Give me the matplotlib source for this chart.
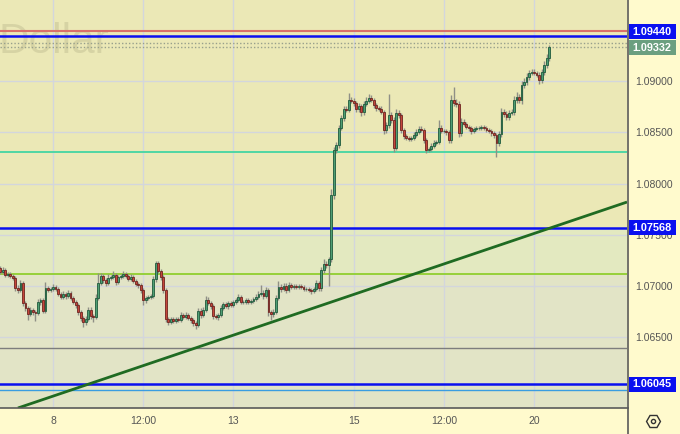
import matplotlib
matplotlib.use('Agg')
import matplotlib.pyplot as plt
import numpy as np
from matplotlib.lines import Line2D
from matplotlib.patches import Rectangle

# ---------------- data ----------------
first_open = 1.07177
close = [
 1.07138,1.07157,1.07109,1.07118,1.07099,1.07079,1.06982,1.06962,1.07031,1.06836,
 1.06787,1.06728,1.06767,1.06748,1.06738,1.06845,1.06865,1.06758,1.06982,1.06962,
 1.06972,1.06992,1.06972,1.06923,1.06894,1.06923,1.06904,1.06933,1.06884,1.06845,
 1.06816,1.06748,1.06689,1.06650,1.06680,1.06767,1.06709,1.06699,1.06884,1.07031,
 1.07099,1.07060,1.07031,1.07079,1.07089,1.07109,1.07040,1.07089,1.07099,1.07118,
 1.07099,1.07070,1.07089,1.07050,1.07021,1.07011,1.06962,1.06865,1.06884,1.06894,
 1.06904,1.07070,1.07226,1.07147,1.07089,1.06962,1.06680,1.06650,1.06680,1.06660,
 1.06680,1.06670,1.06719,1.06699,1.06719,1.06689,1.06670,1.06640,1.06621,1.06758,
 1.06719,1.06767,1.06865,1.06836,1.06806,1.06709,1.06699,1.06719,1.06787,1.06826,
 1.06806,1.06836,1.06816,1.06845,1.06865,1.06894,1.06845,1.06845,1.06865,1.06845,
 1.06855,1.06875,1.06894,1.06923,1.06933,1.06904,1.06962,1.06748,1.06728,1.06748,
 1.06884,1.06992,1.06972,1.07001,1.06962,1.07011,1.06992,1.07001,1.06992,1.07001,
 1.06992,1.06972,1.06972,1.06962,1.06953,1.06972,1.07031,1.06982,1.07157,1.07216,
 1.07206,1.07265,1.07889,1.08327,1.08376,1.08542,1.08639,1.08727,1.08717,1.08815,
 1.08805,1.08786,1.08727,1.08756,1.08698,1.08776,1.08805,1.08834,1.08815,1.08766,
 1.08737,1.08727,1.08698,1.08522,1.08571,1.08669,1.08620,1.08347,1.08688,1.08669,
 1.08522,1.08464,1.08444,1.08435,1.08444,1.08474,1.08503,1.08532,1.08522,1.08425,
 1.08327,1.08337,1.08366,1.08395,1.08405,1.08542,1.08513,1.08513,1.08503,1.08425,
 1.08815,1.08786,1.08776,1.08493,1.08600,1.08581,1.08552,1.08542,1.08513,1.08532,
 1.08542,1.08542,1.08552,1.08542,1.08522,1.08513,1.08493,1.08474,1.08395,1.08483,
 1.08698,1.08678,1.08649,1.08688,1.08698,1.08815,1.08844,1.08815,1.08961,1.08990,
 1.09039,1.09078,1.09088,1.09078,1.09059,1.09010,1.09088,1.09156,1.09224,1.09332,
]
upper_wick_pips = [
 2,3,2,2,2,2,2,3,3,2, 2,2,3,2,2,3,2,2,6,2, 2,3,2,2,2,3,2,3,2,2, 2,2,2,2,3,3,3,2,4,10,
 3,2,2,4,2,4,2,2,2,3, 2,2,3,2,2,2,2,2,2,2, 2,3,2,2,2,2,2,2,2,2, 2,2,3,2,3,2,2,2,2,3,
 3,3,4,3,2,2,2,2,3,2, 2,2,2,2,2,3,2,2,2,2, 2,2,3,3,8,3,3,2,2,3, 3,6,3,3,3,3,2,2,2,2,
 2,2,2,2,2,2,3,2,3,5, 3,2,6,3,3,3,3,3,3,7, 3,3,2,3,2,3,4,4,3,2, 2,2,3,2,3,20,3,3,4,3,
 2,2,2,2,2,3,3,3,3,2, 2,2,3,3,2,8,3,2,2,2, 5,13,4,3,4,3,2,2,2,2, 2,2,2,2,2,2,2,2,2,3,
 4,3,3,3,3,4,5,3,4,4, 4,3,3,3,2,3,3,4,4,2,
]
lower_wick_pips = [
 2,2,2,2,2,2,3,3,2,3, 3,6,2,3,8,2,3,2,2,2, 2,2,2,2,2,2,3,2,2,2, 3,3,3,5,3,2,3,5,2,2,
 2,3,3,2,2,2,3,2,2,2, 2,2,2,2,2,3,3,5,3,2, 2,2,3,2,3,3,3,3,2,2, 2,2,2,2,2,2,3,3,4,2,
 3,2,2,2,3,3,2,3,2,2, 2,3,2,2,2,2,2,2,2,2, 2,2,2,2,2,3,2,4,6,3, 2,2,3,2,3,2,2,2,2,2,
 2,2,2,2,3,2,2,3,3,3, 3,20,3,4,3,3,2,3,2,2, 2,3,3,3,4,3,2,2,2,3, 3,2,2,4,3,3,3,4,2,3,
 3,3,2,2,2,2,2,2,2,3, 3,2,2,2,2,2,2,2,3,3, 3,3,3,4,3,2,2,3,3,2, 2,2,2,2,2,2,3,3,14,3,
 3,3,3,3,2,3,3,3,4,3, 3,3,2,2,2,4,3,3,3,3,
]

x_tick_idx = [21, 57, 93, 141, 177, 213]
x_tick_labels = ["8", "12:00", "13", "15", "12:00", "20"]
y_ticks = [1.065, 1.070, 1.075, 1.080, 1.085, 1.090]
y_tick_labels = ["1.06500", "1.07000", "1.07500", "1.08000", "1.08500", "1.09000"]

blue_levels = [1.09440, 1.07568, 1.06045]
red_level = 1.09487
dotted_levels = [1.09367, 1.09332]
teal_level = 1.08309
lime_level = 1.07122
grey_level = 1.06400
lightblue_level = 1.05987
trend_pts_x = [7.0, 250.1]
trend_pts_y = [1.05812, 1.07820]

box_labels = [("1.09440", 1.09479, '#0a10f0'), ("1.09332", 1.09323, '#6b9f80'),
              ("1.07568", 1.07568, '#0a10f0'), ("1.06045", 1.06045, '#0a10f0')]

# ---------------- figure ----------------
W, H = 680, 434
fig = plt.figure(figsize=(W/100, H/100), dpi=100)
fig.patch.set_facecolor('#fffacd')
ax = fig.add_axes([0, 26/H, 627/W, 408/H])
ymin, ymax = 1.05812, 1.0979
ax.set_xlim(-0.16, 250.1)
ax.set_ylim(ymin, ymax)
ax.set_facecolor('#ebe8b6')
px_price = (ymax - ymin) / 408.0

# zones
ax.axhspan(lime_level, blue_levels[1], color='#e3e9c0', zorder=0, lw=0)
ax.axhspan(ymin, lime_level, color='#e2e4c6', zorder=0, lw=0)

# grid
for xt in x_tick_idx:
    ax.axvline(xt, color='#d3d6dc', lw=1, zorder=1)
for yt in y_ticks:
    ax.axhline(yt, color='#d3d6dc', lw=1, zorder=1)

# watermark
ax.text(-0.002, 1 - 53/408, "Dollar", transform=ax.transAxes, ha='left', va='baseline',
        fontsize=30.5, family='Liberation Sans', color='#d6d3a4', zorder=1.5)

# horizontal levels
ax.axhline(red_level, color='#d9706a', lw=1.5, zorder=3)
ax.axhline(teal_level, color='#4fd6a4', lw=1.4, zorder=3)
ax.axhline(lime_level, color='#96d03a', lw=1.4, zorder=3)
ax.axhline(grey_level, color='#7d7d7d', lw=1.0, zorder=3)
ax.axhline(lightblue_level, color='#3a9de0', lw=1.0, zorder=3)
for lv in dotted_levels:
    ax.axhline(lv, color='#98a08c', lw=1.0, ls=(0, (1, 1.5)), zorder=3)
for lv in blue_levels:
    ax.axhline(lv, color='#0a10f0', lw=1.8, zorder=3)

# trend line
ax.plot(trend_pts_x, trend_pts_y, color='#1f6b22', lw=2.0, zorder=4, solid_capstyle='butt')

# candles
n = len(close)
xs = np.arange(n)
opens = np.array([first_open] + close[:-1])
closes = np.array(close)
highs = np.maximum(opens, closes) + np.array(upper_wick_pips) * 0.0001
lows = np.minimum(opens, closes) - np.array(lower_wick_pips) * 0.0001
up = closes >= opens
ax.vlines(xs, lows, highs, color='#8f8f86', lw=1.0, zorder=5)
bot = np.minimum(opens, closes)
hgt = np.abs(closes - opens)
ax.bar(xs[up], hgt[up], bottom=bot[up], width=0.75, color='#4f9e74',
       edgecolor='#1f5a3c', linewidth=0.6, zorder=6)
ax.bar(xs[~up], hgt[~up], bottom=bot[~up], width=0.75, color='#c4463b',
       edgecolor='#6e2420', linewidth=0.6, zorder=6)

# axes styling
for s in ax.spines.values():
    s.set_visible(False)
ax.set_xticks(x_tick_idx)
ax.set_xticklabels(x_tick_labels)
ax.yaxis.tick_right()
ax.set_yticks(y_ticks)
ax.set_yticklabels(y_tick_labels)
ax.tick_params(axis='both', length=0, colors='#555555', labelsize=7.5)
ax.tick_params(axis='x', pad=6)
ax.tick_params(axis='y', pad=6)
for lab in ax.get_xticklabels() + ax.get_yticklabels():
    lab.set_family('Liberation Sans')

# price boxes
ytr = ax.get_yaxis_transform()
bx0, bw, bh = 628.5/627, 47/627, 15 * px_price
for txt, lv, col in box_labels:
    ax.add_patch(Rectangle((bx0, lv - bh/2), bw, bh, transform=ytr, fc=col, ec='none',
                           zorder=10, clip_on=False))
    ax.text(bx0 + bw/2, lv, txt, transform=ytr, ha='center', va='center',
            fontsize=7.8, family='Liberation Sans', fontweight='bold', color='white',
            zorder=11, clip_on=False)

# frame lines
fig.add_artist(Line2D([627.5/W, 627.5/W], [0, 1], color='#5a5a5a', lw=1.2, transform=fig.transFigure))
fig.add_artist(Line2D([0, 627.5/W], [26/H, 26/H], color='#5a5a5a', lw=1.2, transform=fig.transFigure))

# settings icon
fig.add_artist(Line2D([653/W], [1 - 421/H], marker='H', markersize=10, mfc='none', mec='#333333',
                      mew=1.0, transform=fig.transFigure))
fig.add_artist(Line2D([653/W], [1 - 421/H], marker='o', markersize=3, mfc='none', mec='#333333',
                      mew=1.0, transform=fig.transFigure))

fig.savefig('out.png', dpi=100, facecolor=fig.get_facecolor())
